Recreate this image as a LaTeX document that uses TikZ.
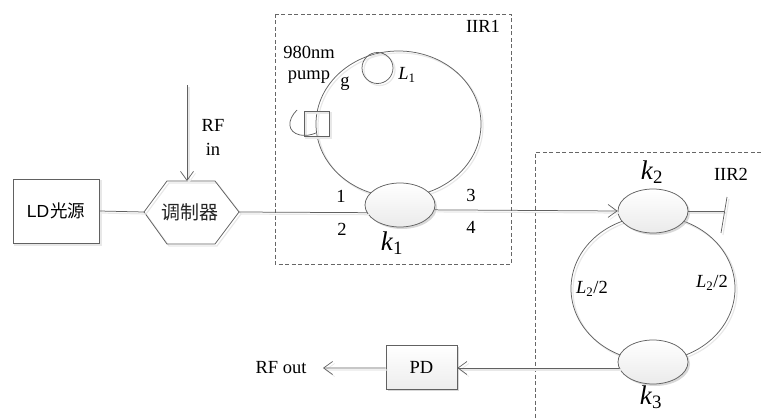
\documentclass[tikz,border=0pt]{standalone}
\usepackage{fontspec}
\setmainfont{Liberation Serif}
\newfontfamily\lsans{Liberation Sans}
\newfontfamily\cjk{Noto Sans CJK SC}
\usetikzlibrary{arrows.meta,shapes.geometric,shadows}
\tikzset{
  ln/.style={draw=black!62,line width=0.75pt},
  sh/.style={preaction={draw=black!9,line width=1.2pt,transform canvas={shift={(2pt,-2pt)}}}},
  opn/.style={ln,sh,-{Straight Barb[length=9pt,width=13pt,line width=0.7pt]}},
  dashbox/.style={draw=black!60,line width=0.7pt,dash pattern=on 4pt off 2.5pt},
  ring/.style={circle,ln,sh,inner sep=0pt},
  oval/.style={ellipse,ln,sh,inner sep=0pt},
  coupler/.style={ellipse,ln,inner sep=0pt,minimum width=70pt,minimum height=44pt,
    top color=white,bottom color=black!8,drop shadow={shadow xshift=2pt,shadow yshift=-2pt,fill=black!30,opacity=.5}},
  boxn/.style={rectangle,ln,inner sep=0pt},
  lab/.style={inner sep=0pt,font=\fontsize{18.5}{18.5}\selectfont,text=black},
  klab/.style={inner sep=0pt,font=\fontsize{27}{27}\selectfont,text=black},
}
\newcommand{\subit}[2]{\textit{#1}\textsubscript{#2}}
\begin{document}
\begin{tikzpicture}[x=1pt,y=-1pt]
\useasboundingbox (0,0) rectangle (761,420);
% frames
\draw[dashbox] (275,14) rectangle (511,264);
\draw[dashbox] (761,152) -- (535,152) -- (535,420);
% rings
\node[oval,minimum width=165pt,minimum height=146pt] (r1) at (398.5,124) {};
\node[ring,minimum size=31pt] (l1) at (377.5,68) {};
\node[oval,minimum width=164pt,minimum height=145pt] (r2) at (653,288.5) {};
% pump part
\node[boxn,sh,minimum width=25pt,minimum height=25pt] (wdm) at (316.5,123.5) {};
\draw[ln] (297,110) .. controls (287,120) and (287,132) .. (300,135) .. controls (306,136) and (311,135) .. (316,133);
% main nodes
\node[boxn,sh,fill=white,minimum width=86pt,minimum height=64pt] (ld) at (56,211) {\lsans\fontsize{17.5}{17.5}\selectfont LD\hspace{1pt}\cjk 光源};
\path (144,212) coordinate (hw) (239,212) coordinate (he) (167,181) coordinate (hnw) (215,181) coordinate (hne) (215,244) coordinate (hse) (167,244) coordinate (hsw);
\node[inner sep=0pt,font=\cjk\fontsize{19}{19}\selectfont,text=black!85] (mod) at (189.5,212) {调制器};
\draw[ln,sh] (hw) -- (hnw) -- (hne) -- (he) -- (hse) -- (hsw) -- cycle;
\node[coupler] (k1) at (400,205) {};
\node[coupler] (k2) at (653,211) {};
\node[coupler] (k3) at (653,362) {};
\node[boxn,top color=white,bottom color=black!7,drop shadow={shadow xshift=2pt,shadow yshift=-2pt,fill=black!30,opacity=.5},minimum width=71pt,minimum height=44pt,font=\fontsize{18.5}{18.5}\selectfont,text=black] (pd) at (421.5,367) {PD};
% connectors
\coordinate (rfin) at (187,85);
\coordinate (rfout) at (323,368);
\coordinate (endk2) at (723.5,211);
\coordinate (s1) at (727,197);
\coordinate (s2) at (721,233);
\draw[ln,sh] (ld.east) -- (hw);
\draw[ln,sh] (he) -- (k1.193.6);
\draw[opn] (rfin) -- (187,181);
\draw[opn] (k1.-8) -- (k2.west);
\draw[ln,sh] (k2.east) -- (endk2);
\draw[ln,sh] (s1) -- (s2);
\draw[opn] (k3.190) -- (pd.east |- k3.190);
\draw[opn] (pd.west |- k3.190) -- (rfout);
% labels
\node[lab] (t1) at (483,26) {IIR1};
\node[lab] (t2) at (731,174) {IIR2};
\node[lab] (t3) at (309,52) {980nm};
\node[lab] (t4) at (309,77) {pump};
\node[lab] (t5) at (345,84) {g};
\node[lab] (t6) at (407,75) {\subit{L}{1}};
\node[lab] (t7) at (213,125) {RF};
\node[lab] (t8) at (213,149) {in};
\node[lab] (t9) at (341,196) {1};
\node[lab] (t10) at (342,229) {2};
\node[lab] (t11) at (471,195) {3};
\node[lab] (t12) at (471,227) {4};
\node[klab] (t13) at (392,243) {\subit{k}{1}};
\node[klab] (t14) at (652,172) {\subit{k}{2}};
\node[klab] (t15) at (651,397) {\subit{k}{3}};
\node[lab] (t16) at (592,289) {\subit{L}{2}/2};
\node[lab] (t17) at (712,283) {\subit{L}{2}/2};
\node[lab] (t18) at (281,368) {RF out};
\end{tikzpicture}
\end{document}
